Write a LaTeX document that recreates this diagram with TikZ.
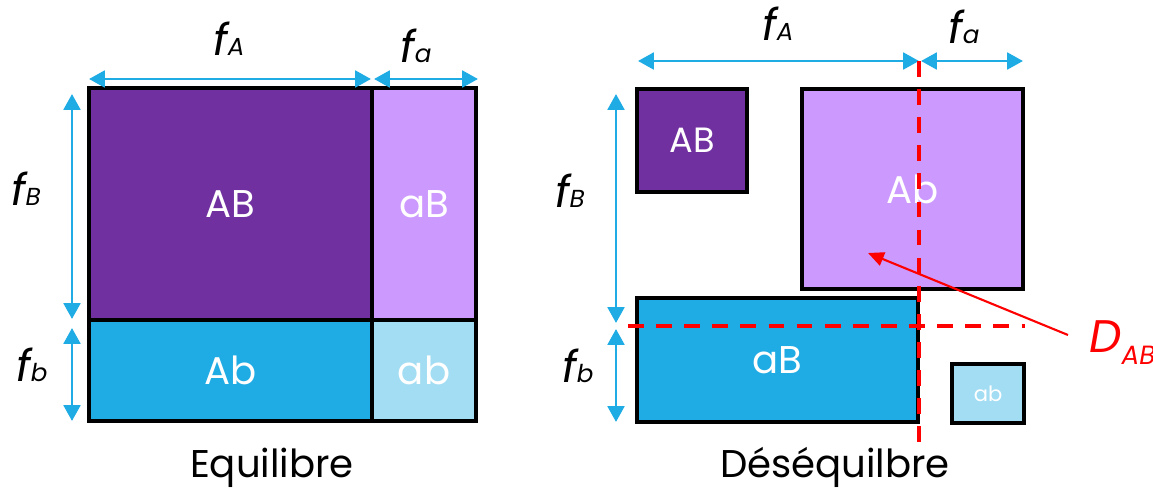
\documentclass[tikz,border=0pt]{standalone}
\usepackage{fontspec}
\setmainfont{Poppins}
\usetikzlibrary{arrows.meta}
\definecolor{dpurple}{HTML}{7030A0}
\definecolor{lpurple}{HTML}{CC99FF}
\definecolor{cblue}{HTML}{1FABE3}
\definecolor{lblue}{HTML}{A3DDF3}
\definecolor{arrblue}{HTML}{1FABE3}
\tikzset{
 cell/.style={draw=black, line width=1.8pt, inner sep=0pt, outer sep=0pt, text=white, font=\fontsize{22}{26}\selectfont},
 dim/.style={draw=arrblue, line width=1.6pt, {Triangle[length=9pt,width=9.5pt]}-{Triangle[length=9pt,width=9.5pt]}},
 flabel/.style={anchor=base, inner sep=0pt},
 caption/.style={font=\fontsize{22}{26}\selectfont, anchor=base, inner sep=0pt},
 ddash/.style={draw=red, line width=2.3pt, dash pattern=on 9pt off 7pt},
 darrow/.style={draw=red, line width=1.2pt, -{Triangle[length=9pt,width=8pt]}},
}
\newcommand{\flab}[1]{{\fontsize{25}{25}\selectfont\itshape f}{\fontsize{14}{14}\selectfont\itshape #1}}
\begin{document}
\begin{tikzpicture}[x=0.02cm,y=-0.02cm]
\useasboundingbox (0,0) rectangle (1153,494);
% ---------- left: Equilibre ----------
\node[cell, fill=dpurple, minimum width=5.66cm, minimum height=4.64cm] (AB1) at (230.5,204) {AB};
\node[cell, fill=lpurple, minimum width=2.08cm, minimum height=4.64cm] (aB1) at (424,204) {aB};
\node[cell, fill=cblue, minimum width=5.66cm, minimum height=2.02cm] (Ab1) at (230.5,370.5) {Ab};
\node[cell, fill=lblue, minimum width=2.08cm, minimum height=2.02cm] (ab1) at (424,370.5) {ab};
% dimension arrows
\coordinate (lA1) at (89,79); \coordinate (lA2) at (371,79);
\coordinate (la1) at (374,79); \coordinate (la2) at (478,79);
\coordinate (lB1) at (72,94); \coordinate (lB2) at (72,319);
\coordinate (lb1) at (72,328); \coordinate (lb2) at (72,421);
\draw[dim] (lA1) -- (lA2);
\draw[dim] (la1) -- (la2);
\draw[dim] (lB1) -- (lB2);
\draw[dim] (lb1) -- (lb2);
\node[flabel] (lfA) at (229,55) {\flab{A}};
\node[flabel] (lfa) at (416,62) {\flab{a}};
\node[flabel] (lfB) at (26,205) {\flab{B}};
\node[flabel] (lfb) at (32,381) {\flab{b}};
\node[caption] (eq) at (272,477) {Equilibre};
% ---------- right: Desequilibre ----------
\node[cell, fill=dpurple, minimum width=2.2cm, minimum height=2.06cm, font=\fontsize{20}{24}\selectfont] (AB2) at (692,140.5) {AB};
\node[cell, fill=lpurple, minimum width=4.42cm, minimum height=4.0cm] (Ab2) at (912.5,189) {Ab};
\node[cell, fill=cblue, minimum width=5.62cm, minimum height=2.48cm] (aB2) at (777.5,360) {aB};
\node[cell, fill=lblue, minimum width=1.44cm, minimum height=1.18cm, font=\fontsize{12}{14}\selectfont] (ab2) at (988,393.5) {ab};
\coordinate (rA1) at (638,61); \coordinate (rA2) at (919,61);
\coordinate (ra1) at (921,61); \coordinate (ra2) at (1023,61);
\coordinate (rB1) at (616,94); \coordinate (rB2) at (616,323);
\coordinate (rb1) at (616,329); \coordinate (rb2) at (616,422);
\draw[dim] (rA1) -- (rA2);
\draw[dim] (ra1) -- (ra2);
\draw[dim] (rB1) -- (rB2);
\draw[dim] (rb1) -- (rb2);
\node[flabel] (rfA) at (778,40) {\flab{A}};
\node[flabel] (rfa) at (964,43) {\flab{a}};
\node[flabel] (rfB) at (570,207) {\flab{B}};
\node[flabel] (rfb) at (578,382) {\flab{b}};
% red dashed lines
\coordinate (v1) at (919,61); \coordinate (v2) at (919,447);
\coordinate (h1) at (628,326); \coordinate (h2) at (1025,326);
\draw[ddash] (v1) -- (v2);
\draw[ddash] (h1) -- (h2);
% D_AB
\coordinate (dtail) at (1068,335); \coordinate (dtip) at (868,253);
\draw[darrow] (dtail) -- (dtip);
\node[anchor=base west, inner sep=0pt, text=red] (DAB) at (1089,352) {{\fontsize{26}{26}\selectfont\itshape D}\raisebox{-7pt}{\fontsize{15}{15}\selectfont\itshape AB}};
\node[caption] (deseq) at (835,477) {Déséquilbre};
\end{tikzpicture}
\end{document}
